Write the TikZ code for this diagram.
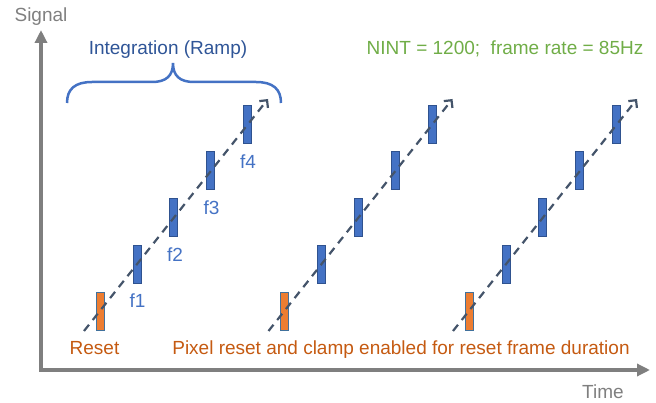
\documentclass[tikz,border=0pt]{standalone}
\usepackage{fontspec}
\setmainfont{Liberation Sans}
\usetikzlibrary{arrows.meta}
\definecolor{axisgray}{HTML}{7F7F7F}
\definecolor{barblue}{HTML}{4472C4}
\definecolor{barorange}{HTML}{ED7D31}
\definecolor{bordblue}{HTML}{2F528F}
\definecolor{orangebord}{HTML}{41719C}
\definecolor{darkblue}{HTML}{2F5597}
\definecolor{labgreen}{HTML}{70AD47}
\definecolor{resetorange}{HTML}{C55A11}
\definecolor{slate}{HTML}{44546A}
\tikzset{
  barbox/.style={rectangle, inner sep=0pt, minimum width=8pt, minimum height=38pt, line width=0.8pt},
  bluebar/.style={barbox, fill=barblue, draw=bordblue},
  orangebar/.style={barbox, fill=barorange, draw=orangebord},
  ramp/.style={draw=slate, line width=2.2pt, dash pattern=on 8pt off 6pt, -{Straight Barb[length=5.5pt,width=11pt]}},
  axisline/.style={draw=axisgray, line width=4pt, {Triangle[length=13pt,width=12pt]}-{Triangle[length=13pt,width=12pt]}},
  txt/.style={inner sep=0pt, anchor=base, font=\fontsize{19pt}{22pt}\selectfont},
}
\begin{document}
\begin{tikzpicture}[x=1pt,y=-1pt]
\useasboundingbox (0,0) rectangle (656,403);
% axes
\coordinate (ytop) at (41,30);
\coordinate (origin) at (41,370);
\coordinate (xend) at (650,370);
\draw[axisline] (ytop) -- (origin) -- (xend);
\node[txt, text=axisgray] (signal) at (41,21.5) {Signal};
\node[txt, text=axisgray] (time) at (603,398.5) {Time};
% groups
\foreach \g/\off in {1/0,2/184.5,3/369} {
  \node[orangebar] (r\g) at ({100+\off},311) {};
  \foreach \k in {1,...,4}
    \node[bluebar] (f\g\k) at ({100+\off+36.9*\k},{311-46.75*\k}) {};
  \coordinate (s\g) at ({84+\off},331);
  \coordinate (e\g) at ({268+\off},99);
  \draw[ramp] (s\g) -- (e\g);
}
% frame labels
\node[txt, text=barblue] (l1) at (137.5,308) {f1};
\node[txt, text=barblue] (l2) at (175,262) {f2};
\node[txt, text=barblue] (l3) at (211.5,215) {f3};
\node[txt, text=barblue] (l4) at (248,168.5) {f4};
% brace
\draw[barblue, line width=2.5pt]
  (67,103) .. controls (67,89) and (75,82) .. (92,82)
  -- (152,82) .. controls (166,82) and (173,76) .. (173,63)
  .. controls (173,76) and (180,82) .. (194,82)
  -- (256,82) .. controls (273,82) and (281,89) .. (281,103);
\node[txt, text=darkblue] (integ) at (168,55) {Integration (Ramp)};
\node[txt, text=labgreen] (nint) at (505,55) {NINT = 1200;\ \ frame rate = 85Hz};
\node[txt, text=resetorange] (reset) at (94.5,355) {Reset};
\node[txt, text=resetorange] (pixel) at (401,355) {Pixel reset and clamp enabled for reset frame duration};
\end{tikzpicture}
\end{document}
